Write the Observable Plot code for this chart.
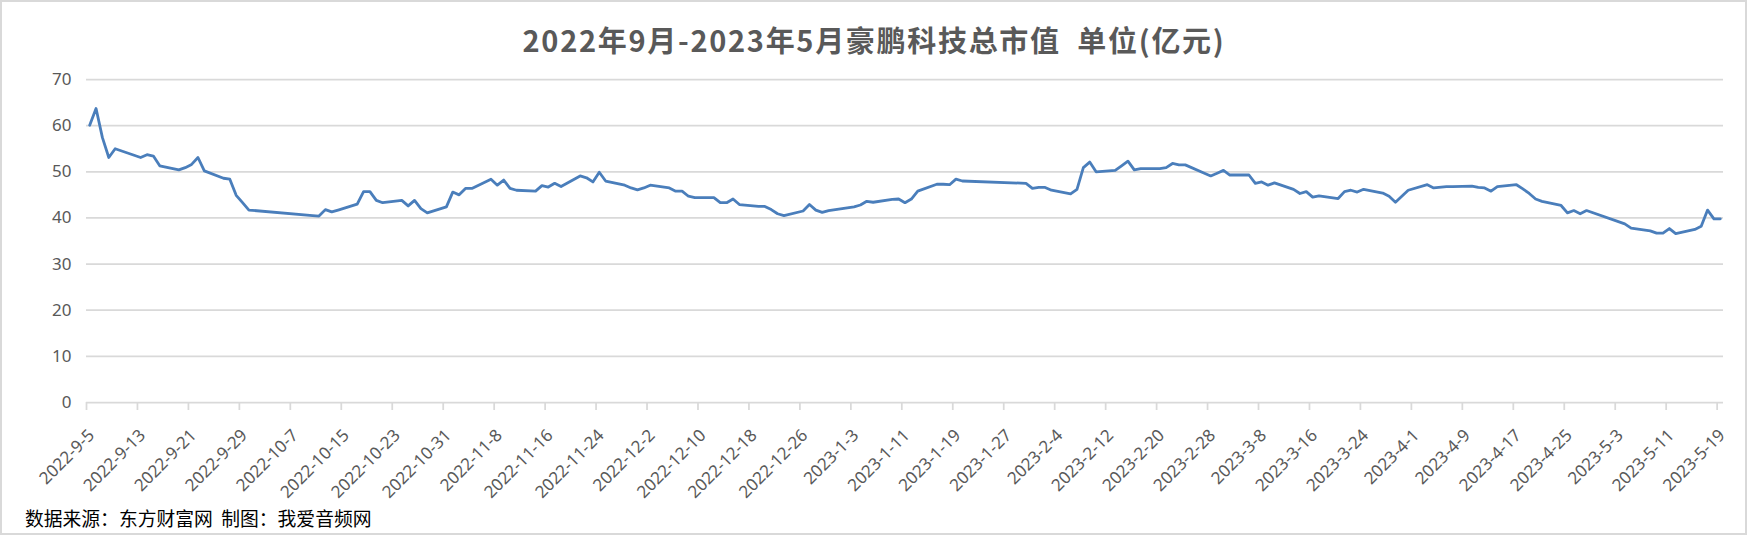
<!DOCTYPE html>
<html><head><meta charset="utf-8">
<script src="https://cdn.jsdelivr.net/npm/d3@7"></script>
<script src="https://cdn.jsdelivr.net/npm/@observablehq/plot@0.6"></script>
<style>
body{margin:0;background:#fff;}
#wrap{position:relative;width:1748px;height:542px;overflow:hidden;background:#fff;}
#frame{position:absolute;left:0;top:0;width:1747px;height:535px;box-sizing:border-box;border:2px solid #d9d9d9;}
#title{position:absolute;left:0;top:19px;width:1748px;text-align:center;font-family:"Noto Sans CJK SC",sans-serif;font-weight:bold;font-size:29px;line-height:40px;color:#595959;letter-spacing:1.7px;white-space:pre;}
#chart{position:absolute;left:0;top:66px;}
#caption{position:absolute;left:25px;top:507px;font-family:"Noto Sans CJK SC",sans-serif;font-size:18.8px;line-height:22px;color:#000;white-space:pre;}
</style></head>
<body>
<div id="wrap">
  <div id="frame"></div>
  <div id="title"></div>
  <div id="chart"></div>
  <div id="caption"></div>
</div>
<script>
const titleText = "2022年9月-2023年5月豪鹏科技总市值  单位(亿元)";
const captionText = "数据来源：东方财富网  制图：我爱音频网";

const dates = [
"2022-09-05","2022-09-06","2022-09-07","2022-09-08","2022-09-09","2022-09-13","2022-09-14","2022-09-15","2022-09-16",
"2022-09-19","2022-09-20","2022-09-21","2022-09-22","2022-09-23","2022-09-26","2022-09-27","2022-09-28","2022-09-29","2022-09-30",
"2022-10-10","2022-10-11","2022-10-12","2022-10-13","2022-10-14","2022-10-17","2022-10-18","2022-10-19","2022-10-20","2022-10-21",
"2022-10-24","2022-10-25","2022-10-26","2022-10-27","2022-10-28","2022-10-31",
"2022-11-01","2022-11-02","2022-11-03","2022-11-04","2022-11-07","2022-11-08","2022-11-09","2022-11-10","2022-11-11",
"2022-11-14","2022-11-15","2022-11-16","2022-11-17","2022-11-18","2022-11-21","2022-11-22","2022-11-23","2022-11-24","2022-11-25",
"2022-11-28","2022-11-29","2022-11-30",
"2022-12-01","2022-12-02","2022-12-05","2022-12-06","2022-12-07","2022-12-08","2022-12-09","2022-12-12","2022-12-13","2022-12-14",
"2022-12-15","2022-12-16","2022-12-19","2022-12-20","2022-12-21","2022-12-22","2022-12-23","2022-12-26","2022-12-27","2022-12-28",
"2022-12-29","2022-12-30",
"2023-01-03","2023-01-04","2023-01-05","2023-01-06","2023-01-09","2023-01-10","2023-01-11","2023-01-12","2023-01-13",
"2023-01-16","2023-01-17","2023-01-18","2023-01-19","2023-01-20","2023-01-30","2023-01-31",
"2023-02-01","2023-02-02","2023-02-03","2023-02-06","2023-02-07","2023-02-08","2023-02-09","2023-02-10","2023-02-13","2023-02-14",
"2023-02-15","2023-02-16","2023-02-17","2023-02-20","2023-02-21","2023-02-22","2023-02-23","2023-02-24","2023-02-27","2023-02-28",
"2023-03-01","2023-03-02","2023-03-03","2023-03-06","2023-03-07","2023-03-08","2023-03-09","2023-03-10","2023-03-13","2023-03-14",
"2023-03-15","2023-03-16","2023-03-17","2023-03-20","2023-03-21","2023-03-22","2023-03-23","2023-03-24","2023-03-27","2023-03-28",
"2023-03-29","2023-03-30","2023-03-31",
"2023-04-03","2023-04-04","2023-04-06","2023-04-07","2023-04-10","2023-04-11","2023-04-12","2023-04-13","2023-04-14","2023-04-17",
"2023-04-18","2023-04-19","2023-04-20","2023-04-21","2023-04-24","2023-04-25","2023-04-26","2023-04-27","2023-04-28",
"2023-05-04","2023-05-05","2023-05-08","2023-05-09","2023-05-10","2023-05-11","2023-05-12","2023-05-15","2023-05-16","2023-05-17",
"2023-05-18","2023-05-19"
];
const values = [
60.1,63.7,57.4,53.1,55.0,53.1,53.7,53.4,51.3,
50.4,50.9,51.6,53.1,50.2,48.6,48.4,44.9,43.3,41.7,
40.5,40.4,41.8,41.3,41.7,43.0,45.7,45.7,43.8,43.3,
43.8,42.6,43.8,42.0,41.1,42.4,
45.6,45.0,46.4,46.4,48.4,47.1,48.2,46.4,46.0,
45.8,47.0,46.7,47.5,46.8,49.1,48.7,47.8,49.9,48.0,
47.1,46.5,46.1,
46.5,47.1,46.5,45.8,45.8,44.7,44.4,44.4,43.3,43.3,
44.1,42.9,42.5,42.5,41.8,40.9,40.5,41.5,42.9,41.7,
41.2,41.6,
42.4,42.8,43.6,43.4,44.0,44.1,43.3,44.1,45.8,
47.3,47.3,47.2,48.4,48.0,47.5,46.4,
46.6,46.6,46.0,45.2,46.2,50.9,52.1,50.0,50.3,51.3,
52.3,50.4,50.7,50.7,50.9,51.8,51.5,51.5,49.7,49.1,
49.7,50.3,49.3,49.3,47.5,47.8,47.1,47.6,46.2,45.3,
45.7,44.5,44.8,44.2,45.7,46.0,45.6,46.2,45.4,44.7,
43.4,44.7,46.0,
47.2,46.5,46.8,46.8,46.9,46.6,46.5,45.8,46.8,47.2,
46.3,45.3,44.1,43.6,42.7,41.1,41.6,40.9,41.6,
38.7,37.8,37.2,36.7,36.7,37.7,36.6,37.5,38.2,41.7,
39.8,39.8
];
const tickLabels = ["2022-9-5","2022-9-13","2022-9-21","2022-9-29","2022-10-7","2022-10-15","2022-10-23","2022-10-31",
"2022-11-8","2022-11-16","2022-11-24","2022-12-2","2022-12-10","2022-12-18","2022-12-26","2023-1-3","2023-1-11","2023-1-19",
"2023-1-27","2023-2-4","2023-2-12","2023-2-20","2023-2-28","2023-3-8","2023-3-16","2023-3-24","2023-4-1","2023-4-9",
"2023-4-17","2023-4-25","2023-5-3","2023-5-11","2023-5-19"];
const yTicks = [0,10,20,30,40,50,60,70];

document.getElementById("title").textContent = titleText;
document.getElementById("caption").textContent = captionText;

const parse = s => { const [y,m,d] = s.split("-").map(Number); return new Date(Date.UTC(y, m-1, d)); };
const HALF_DAY = 12*3600*1000;
const data = dates.map((s,i) => ({date: new Date(+parse(s) + HALF_DAY), value: values[i]}));
const tickDates = tickLabels.map(parse);
const labelOf = new Map(tickDates.map((d,i) => [+d, tickLabels[i]]));
const domainEnd = new Date(+parse(dates[dates.length-1]) + 2*HALF_DAY);

const chart = Plot.plot({
  width: 1748, height: 440,
  marginLeft: 86, marginRight: 25, marginTop: 13, marginBottom: 104,
  style: {fontFamily: "'Noto Sans', sans-serif", fontSize: "17px", color: "#595959", background: "transparent"},
  x: {type: "utc", domain: [parse(dates[0]), domainEnd]},
  y: {domain: [0, 70]},
  marks: [
    Plot.gridY(yTicks.filter(v => v > 0), {stroke: "#d9d9d9", strokeOpacity: 1, strokeWidth: 1.75}),
    Plot.ruleY([0], {stroke: "#d9d9d9", strokeWidth: 1.75}),
    Plot.axisY(yTicks, {tickSize: 0, tickPadding: 15, label: null, fill: "#595959", fontSize: 17}),
    Plot.axisX(tickDates, {tickSize: 8, tickFormat: () => "", label: null, stroke: "#d9d9d9", strokeWidth: 1.75}),
    Plot.axisX(tickDates, {tickSize: 0, tickPadding: 30, dx: 5, tickRotate: -45, tickFormat: d => labelOf.get(+d), label: null, fill: "#595959", fontSize: 17}),
    Plot.line(data, {x: "date", y: "value", stroke: "#4a7ebb", strokeWidth: 2.8, strokeLinejoin: "round", strokeLinecap: "round"})
  ]
});
document.getElementById("chart").appendChild(chart);
</script>
</body></html>
